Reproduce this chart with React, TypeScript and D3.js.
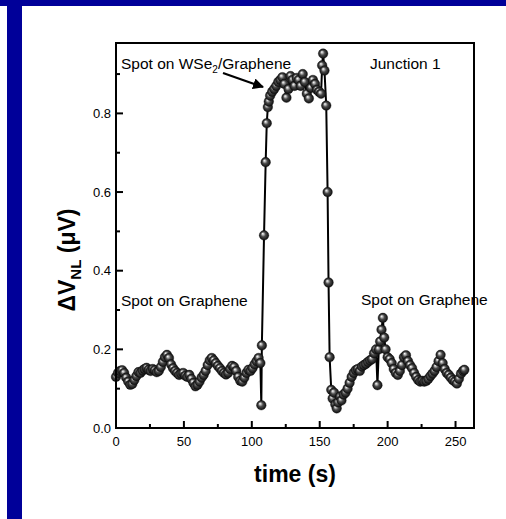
import React from "react";
import { scaleLinear, line, range } from "d3";

// [time (s), ΔV_NL (µV)], one array per phase
const baseline1: [number, number][] = [
  [0, 0.13], [1.5, 0.14], [3, 0.145], [4.5, 0.147], [6, 0.14], [7.5, 0.128],
  [9, 0.118], [10.5, 0.11], [12, 0.112], [13.5, 0.122], [15, 0.132], [16.5, 0.142],
  [18, 0.14], [19.5, 0.146], [21, 0.15], [22.5, 0.153], [24, 0.148], [25.5, 0.145],
  [27, 0.15], [28.5, 0.147], [30, 0.142], [31.5, 0.145], [33, 0.155], [34.5, 0.168],
  [36, 0.18], [37.5, 0.186], [39, 0.178], [40.5, 0.162], [42, 0.152], [43.5, 0.145],
  [45, 0.14], [46.5, 0.135], [48, 0.138], [49.5, 0.14], [51, 0.133], [52.5, 0.13],
  [54, 0.135], [55.5, 0.125], [57, 0.115], [58.5, 0.106], [60, 0.11], [61.5, 0.118],
  [63, 0.128], [64.5, 0.135], [66, 0.145], [67.5, 0.16], [69, 0.172], [70.5, 0.178],
  [72, 0.172], [73.5, 0.165], [75, 0.158], [76.5, 0.152], [78, 0.145], [79.5, 0.14],
  [81, 0.136], [82.5, 0.14], [84, 0.15], [85.5, 0.158], [87, 0.155], [88.5, 0.145],
  [90, 0.13], [91.5, 0.12], [93, 0.118], [94.5, 0.128], [96, 0.14], [97.5, 0.148],
  [99, 0.145], [100.5, 0.152], [102, 0.162], [103.5, 0.17], [105, 0.178], [106.3, 0.165],
];

const rise: [number, number][] = [
  [107, 0.058], [107.4, 0.21], [109, 0.49], [110.2, 0.676], [111, 0.775],
  [111.8, 0.816], [112.5, 0.83],
];

const plateau: [number, number][] = [
  [113.5, 0.845], [115, 0.855], [116.5, 0.862], [118, 0.87], [119.5, 0.88],
  [121, 0.885], [122.5, 0.892], [124, 0.875], [125.5, 0.84], [127, 0.862],
  [128.5, 0.895], [130, 0.885], [131.5, 0.87], [133, 0.89], [134.5, 0.885],
  [136, 0.87], [137.5, 0.9], [139, 0.88], [140.5, 0.85], [142, 0.838],
  [143.5, 0.865], [145, 0.885], [146.5, 0.875], [148, 0.86], [149.5, 0.855],
  [151, 0.85],
];

const fall: [number, number][] = [
  [151.8, 0.922], [152.5, 0.952], [153.5, 0.909], [154.8, 0.82], [155.8, 0.6],
  [156.5, 0.37], [157.3, 0.18],
];

const baseline2: [number, number][] = [
  [158.5, 0.097], [159.5, 0.075], [160.5, 0.09], [161.5, 0.06], [162.5, 0.05],
  [163.5, 0.065], [165, 0.08], [166, 0.07], [167.5, 0.085], [169, 0.09],
  [170.5, 0.1], [172, 0.115], [173.5, 0.13], [175, 0.14], [176.5, 0.147],
  [178, 0.15], [179.5, 0.145], [181, 0.156], [182.5, 0.16], [184, 0.163],
  [185.5, 0.168], [187, 0.172], [188.5, 0.175], [190, 0.19], [191.5, 0.2],
  [192.5, 0.109], [193.5, 0.2], [194.5, 0.22], [195.5, 0.25], [196.5, 0.28],
  [197.5, 0.23], [198.5, 0.2], [200, 0.18], [201.5, 0.175], [203, 0.165],
  [204.5, 0.15], [206, 0.14], [207.5, 0.135], [209, 0.145], [210.5, 0.16],
  [212, 0.18], [213.5, 0.185], [215, 0.17], [216.5, 0.16], [218, 0.152],
  [219.5, 0.14], [221, 0.13], [222.5, 0.122], [224, 0.118], [225.5, 0.12],
  [227, 0.118], [228.5, 0.12], [230, 0.125], [231.5, 0.132], [233, 0.138],
  [234.5, 0.145], [236, 0.155], [237.5, 0.17], [239, 0.186], [240.5, 0.165],
  [242, 0.15], [243.5, 0.14], [245, 0.135], [246.5, 0.128], [248, 0.122],
  [249.5, 0.118], [251, 0.113], [252.5, 0.125], [254, 0.138], [255.5, 0.145],
  [256.5, 0.148],
];

const xTicks = [0, 50, 100, 150, 200, 250];
const yTicks = [0, 0.2, 0.4, 0.6, 0.8];

const W = 506;
const H = 519;
const plot = { left: 116, right: 474, top: 43, bottom: 428 };
const font = "Liberation Sans, Arial, sans-serif";

export default function App() {
  const data = [...baseline1, ...rise, ...plateau, ...fall, ...baseline2];

  const x = scaleLinear().domain([0, 263.6]).range([plot.left, plot.right]);
  const y = scaleLinear().domain([0, 0.979]).range([plot.bottom, plot.top]);

  const path = line<[number, number]>()
    .x((d) => x(d[0]))
    .y((d) => y(d[1]))(data);

  const xMinor = range(25, 263, 50);
  const yMinor = range(0.1, 0.97, 0.2);

  return (
    <svg width={W} height={H} style={{ position: "absolute", left: 0, top: 0 }}>
      <defs>
        <radialGradient id="ball" cx="0.5" cy="0.5" r="0.5" fx="0.35" fy="0.32">
          <stop offset="0" stopColor="#ffffff" />
          <stop offset="0.2" stopColor="#bdbdbd" />
          <stop offset="0.5" stopColor="#4a4a4a" />
          <stop offset="1" stopColor="#0c0c0c" />
        </radialGradient>
        <marker id="arrow" viewBox="0 0 10 10" refX="9" refY="5" markerWidth="5" markerHeight="5" orient="auto">
          <path d="M0,0 L10,5 L0,10 z" fill="#000" />
        </marker>
      </defs>

      <rect x={0} y={0} width={W} height={H} fill="#fff" />
      {/* blue frame */}
      <rect x={0} y={0} width={W} height={6} fill="#000099" />
      <rect x={7} y={0} width={15} height={H} fill="#000099" />

      {/* data */}
      <path d={path ?? ""} fill="none" stroke="#000" strokeWidth={2} />
      {data.map((d, i) => (
        <circle key={i} cx={x(d[0])} cy={y(d[1])} r={4.8} fill="url(#ball)" stroke="#111" strokeWidth={0.4} />
      ))}

      {/* frame */}
      <rect
        x={plot.left}
        y={plot.top}
        width={plot.right - plot.left}
        height={plot.bottom - plot.top}
        fill="none"
        stroke="#000"
        strokeWidth={2}
      />

      {/* x axis ticks */}
      {xTicks.map((t) => (
        <g key={t}>
          <line x1={x(t)} x2={x(t)} y1={plot.bottom} y2={plot.bottom - 7} stroke="#000" strokeWidth={2} />
          <text x={x(t)} y={plot.bottom + 18} fontSize={13} fontFamily={font} textAnchor="middle">
            {t}
          </text>
        </g>
      ))}
      {xMinor.map((t) => (
        <line key={t} x1={x(t)} x2={x(t)} y1={plot.bottom} y2={plot.bottom - 4} stroke="#000" strokeWidth={2} />
      ))}

      {/* y axis ticks */}
      {yTicks.map((t) => (
        <g key={t}>
          <line x1={plot.left} x2={plot.left + 7} y1={y(t)} y2={y(t)} stroke="#000" strokeWidth={2} />
          <text x={plot.left - 5} y={y(t) + 4.5} fontSize={13} fontFamily={font} textAnchor="end">
            {t.toFixed(1)}
          </text>
        </g>
      ))}
      {yMinor.map((t) => (
        <line key={t} x1={plot.left} x2={plot.left + 4} y1={y(t)} y2={y(t)} stroke="#000" strokeWidth={2} />
      ))}

      {/* axis titles */}
      <text x={295} y={482} fontSize={23} fontWeight="bold" fontFamily={font} textAnchor="middle">
        time (s)
      </text>
      <text
        transform="translate(75,260) rotate(-90)"
        fontSize={23}
        fontWeight="bold"
        fontFamily={font}
        textAnchor="middle"
      >
        ΔV
        <tspan fontSize={15} dy={6}>NL</tspan>
        <tspan dy={-6}> (μV)</tspan>
      </text>

      {/* annotations */}
      <text x={121} y={69} fontSize={15.5} fontFamily={font}>
        Spot on WSe<tspan fontSize={10} dy={4}>2</tspan>
        <tspan dy={-4}>/Graphene</tspan>
      </text>
      <line x1={223} y1={73} x2={263} y2={87} stroke="#000" strokeWidth={2.2} markerEnd="url(#arrow)" />
      <text x={370} y={69} fontSize={15.5} fontFamily={font}>
        Junction 1
      </text>
      <text x={121} y={306} fontSize={15.5} fontFamily={font}>
        Spot on Graphene
      </text>
      <text x={361} y={305} fontSize={15.5} fontFamily={font}>
        Spot on Graphene
      </text>
    </svg>
  );
}
